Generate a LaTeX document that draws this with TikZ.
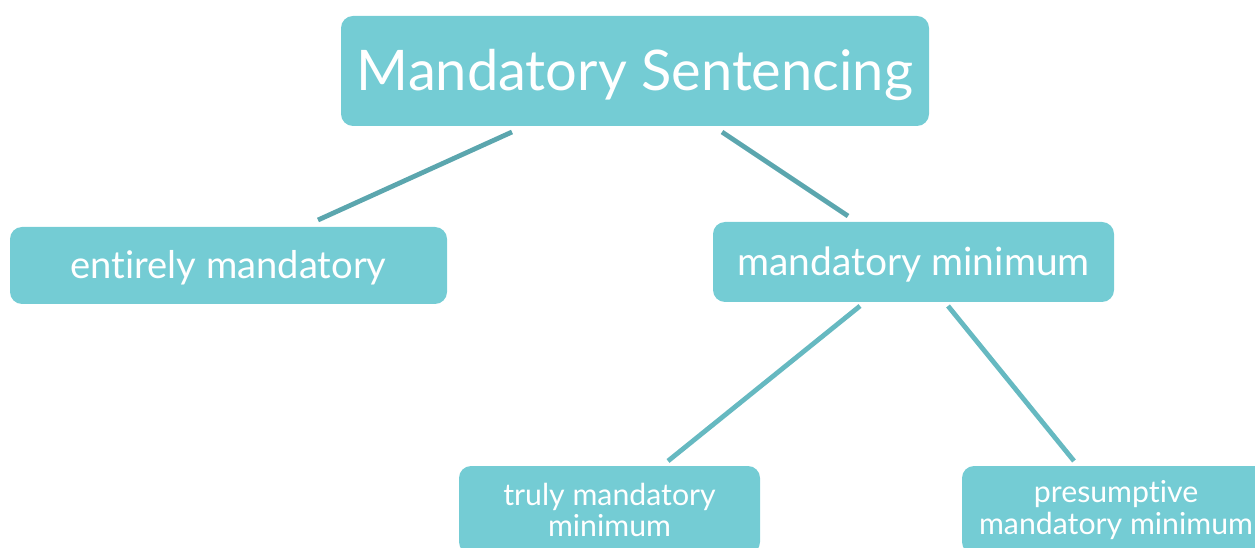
\documentclass[tikz,border=0pt]{standalone}
\usepackage{fontspec}
\setmainfont[Ligatures=NoCommon]{Lato}
\definecolor{boxfill}{HTML}{74CCD4}
\definecolor{topline}{HTML}{5BA6AE}
\definecolor{lowline}{HTML}{66B9C1}
\newcommand{\lowered}[2]{\raisebox{-#1}[\height][\depth]{#2}}
\begin{document}
\begin{tikzpicture}[x=0.75pt,y=-0.75pt,
  box/.style={fill=boxfill,rounded corners=9pt,text=white,align=center,inner sep=0pt},
  conn/.style={line width=3.6pt}]
\useasboundingbox (0,0) rectangle (1255,548);
\clip (0,0) rectangle (1255,548);
\node[box,minimum width=441pt,minimum height=82.5pt,font=\fontsize{42}{48}\selectfont] (top) at (635,71) {\lowered{3pt}{Mandatory Sentencing}};
\node[box,minimum width=327.75pt,minimum height=57.75pt,font=\fontsize{28.6}{32}\selectfont] (entire) at (228.5,265.5) {\lowered{2pt}{entirely mandatory}};
\node[box,minimum width=300.75pt,minimum height=60pt,font=\fontsize{29.2}{32}\selectfont] (minimum) at (913.5,262) {\lowered{2pt}{mandatory minimum}};
\node[box,minimum width=225.75pt,minimum height=66pt,font=\fontsize{22.7}{23.5}\selectfont] (truly) at (609.5,510) {truly mandatory\\minimum};
\node[box,minimum width=231pt,minimum height=66pt,font=\fontsize{22.7}{23.5}\selectfont] (presum) at (1116,510) {presumptive\\mandatory minimum};
\coordinate (a1) at (512,132); \coordinate (a2) at (318,220);
\coordinate (b1) at (722,132); \coordinate (b2) at (848,216);
\coordinate (c1) at (860,306); \coordinate (c2) at (668,461);
\coordinate (d1) at (948,306); \coordinate (d2) at (1074,461);
\draw[conn,topline] (a1) -- (a2);
\draw[conn,topline] (b1) -- (b2);
\draw[conn,lowline] (c1) -- (c2);
\draw[conn,lowline] (d1) -- (d2);
\end{tikzpicture}
\end{document}
